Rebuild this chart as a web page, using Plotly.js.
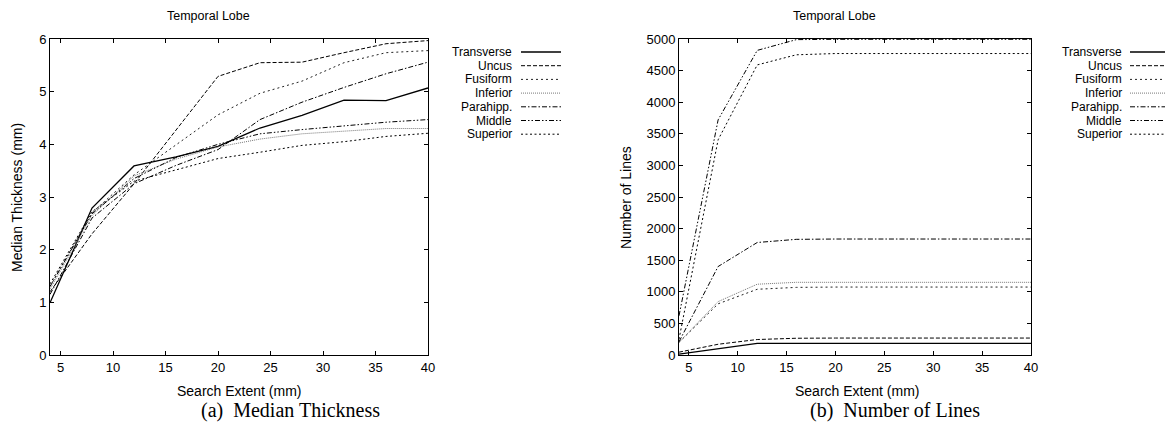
<!DOCTYPE html>
<html>
<head>
<meta charset="utf-8">
<script src="https://cdn.plot.ly/plotly-3.0.1.min.js"></script>
<style>html,body{margin:0;padding:0;background:#fff;}#chart{width:1171px;height:426px;}</style>
</head>
<body>
<div id="chart"></div>
<script>
// ---- data ----
const searchExtent = [4, 8, 12, 16, 20, 24, 28, 32, 36, 40];
const seriesNames = ["Transverse", "Uncus", "Fusiform", "Inferior", "Parahipp.", "Middle", "Superior"];

const thicknessTransverse = [0.99, 2.79, 3.59, 3.76, 3.96, 4.31, 4.55, 4.84, 4.83, 5.07];
const thicknessUncus      = [1.20, 2.30, 3.25, 4.27, 5.29, 5.55, 5.56, 5.74, 5.91, 5.97];
const thicknessFusiform   = [1.30, 2.70, 3.42, 3.99, 4.56, 4.97, 5.20, 5.55, 5.74, 5.78];
const thicknessInferior   = [1.25, 2.65, 3.40, 3.72, 3.95, 4.10, 4.20, 4.25, 4.30, 4.30];
const thicknessParahipp   = [1.15, 2.60, 3.25, 3.60, 3.90, 4.47, 4.80, 5.08, 5.34, 5.56];
const thicknessMiddle     = [1.30, 2.68, 3.35, 3.75, 4.00, 4.20, 4.28, 4.35, 4.42, 4.47];
const thicknessSuperior   = [1.35, 2.72, 3.30, 3.52, 3.73, 3.85, 3.98, 4.05, 4.15, 4.21];

const linesTransverse = [15, 105, 185, 185, 185, 185, 185, 185, 185, 185];
const linesUncus      = [45, 170, 245, 265, 268, 268, 268, 268, 268, 268];
const linesFusiform   = [200, 810, 1040, 1070, 1075, 1075, 1075, 1075, 1075, 1075];
const linesInferior   = [200, 845, 1120, 1150, 1150, 1150, 1150, 1150, 1150, 1150];
const linesParahipp   = [210, 1400, 1780, 1830, 1835, 1835, 1835, 1835, 1835, 1835];
const linesMiddle     = [620, 3720, 4820, 4990, 4995, 4995, 4995, 4995, 4995, 4995];
const linesSuperior   = [250, 3405, 4590, 4750, 4770, 4770, 4770, 4770, 4770, 4770];

const xTickVals = [5, 10, 15, 20, 25, 30, 35, 40];
const yTickValsThickness = [0, 1, 2, 3, 4, 5, 6];
const yTickValsLines = [0, 500, 1000, 1500, 2000, 2500, 3000, 3500, 4000, 4500, 5000];

// ---- styles ----
const styles = [
  {color: "#000", dash: "solid", width: 1.3},
  {color: "#000", dash: "4px,2px", width: 1},
  {color: "#222", dash: "2px,3px", width: 1},
  {color: "#777", dash: "1px,1px", width: 1},
  {color: "#000", dash: "5px,2px,1.5px,2px", width: 1},
  {color: "#000", dash: "5px,2px,1.5px,2px,1.5px,2px", width: 1},
  {color: "#000", dash: "2px,2.5px", width: 1}
];

const thickness = [thicknessTransverse, thicknessUncus, thicknessFusiform, thicknessInferior, thicknessParahipp, thicknessMiddle, thicknessSuperior];
const lines = [linesTransverse, linesUncus, linesFusiform, linesInferior, linesParahipp, linesMiddle, linesSuperior];

const traces = [];
thickness.forEach((ys, i) => traces.push({x: searchExtent, y: ys, type: "scatter", mode: "lines", name: seriesNames[i], xaxis: "x", yaxis: "y", line: styles[i], showlegend: false}));
lines.forEach((ys, i) => traces.push({x: searchExtent, y: ys, type: "scatter", mode: "lines", name: seriesNames[i], xaxis: "x2", yaxis: "y2", line: styles[i], showlegend: false}));

const W = 1171, H = 426;
const fam = "Liberation Sans, Arial, sans-serif";
const font = {family: fam, size: 13, color: "#000"};
const axisCommon = {showline: true, linecolor: "#000", linewidth: 1, mirror: "ticks", ticks: "inside", ticklen: 4, tickcolor: "#000", showgrid: false, zeroline: false, tickfont: font, fixedrange: true};

const annotations = [];
const shapes = [];
function legend(textRight, sx0, sx1) {
  const ys = [52, 65.7, 79.4, 93.1, 106.8, 120.5, 134.2];
  seriesNames.forEach((n, i) => {
    annotations.push({xref: "paper", yref: "paper", x: textRight / W, y: 1 - ys[i] / H, text: n, showarrow: false, xanchor: "right", yanchor: "middle", borderpad: 0, font: {family: fam, size: 12, color: "#000"}});
    shapes.push({type: "line", xref: "paper", yref: "paper", x0: sx0 / W, x1: sx1 / W, y0: 1 - ys[i] / H, y1: 1 - ys[i] / H, line: {color: styles[i].color, dash: styles[i].dash, width: styles[i].width}});
  });
}
legend(513, 521, 561);
legend(1123, 1130, 1165);

function txt(x, y, text, opts) {
  annotations.push(Object.assign({xref: "paper", yref: "paper", x: x / W, y: 1 - y / H, text: text, showarrow: false, xanchor: "center", yanchor: "middle", font: font}, opts || {}));
}
const titleFont = {family: fam, size: 12.5, color: "#000"};
const axTitleFont = {family: fam, size: 14, color: "#000"};
txt(208, 16, "Temporal Lobe", {font: titleFont});
txt(834, 16, "Temporal Lobe", {font: titleFont});
txt(239, 391, "Search Extent (mm)", {font: axTitleFont});
txt(857, 391, "Search Extent (mm)", {font: axTitleFont});
txt(17, 198, "Median Thickness (mm)", {textangle: -90, font: axTitleFont});
txt(626, 198, "Number of Lines", {textangle: -90, font: axTitleFont});
const capFont = {family: "Liberation Serif, DejaVu Serif, serif", size: 20, color: "#000"};
txt(290, 410, "(a)  Median Thickness", {font: capFont});
txt(895, 410, "(b)  Number of Lines", {font: capFont});

const layout = {
  width: W, height: H,
  margin: {l: 0, r: 0, t: 0, b: 0},
  paper_bgcolor: "#fff", plot_bgcolor: "#fff",
  font: font,
  showlegend: false,
  xaxis: Object.assign({}, axisCommon, {domain: [50 / W, 428 / W], range: [4, 40], tickvals: xTickVals, anchor: "y"}),
  yaxis: Object.assign({}, axisCommon, {domain: [1 - 355 / H, 1 - 39 / H], range: [0, 6], tickvals: yTickValsThickness, anchor: "x"}),
  xaxis2: Object.assign({}, axisCommon, {domain: [679 / W, 1031 / W], range: [4, 40], tickvals: xTickVals, anchor: "y2"}),
  yaxis2: Object.assign({}, axisCommon, {domain: [1 - 355 / H, 1 - 39 / H], range: [0, 5000], tickvals: yTickValsLines, anchor: "x2"}),
  annotations: annotations,
  shapes: shapes
};

Plotly.newPlot("chart", traces, layout, {displayModeBar: false, staticPlot: true});
</script>
</body>
</html>
